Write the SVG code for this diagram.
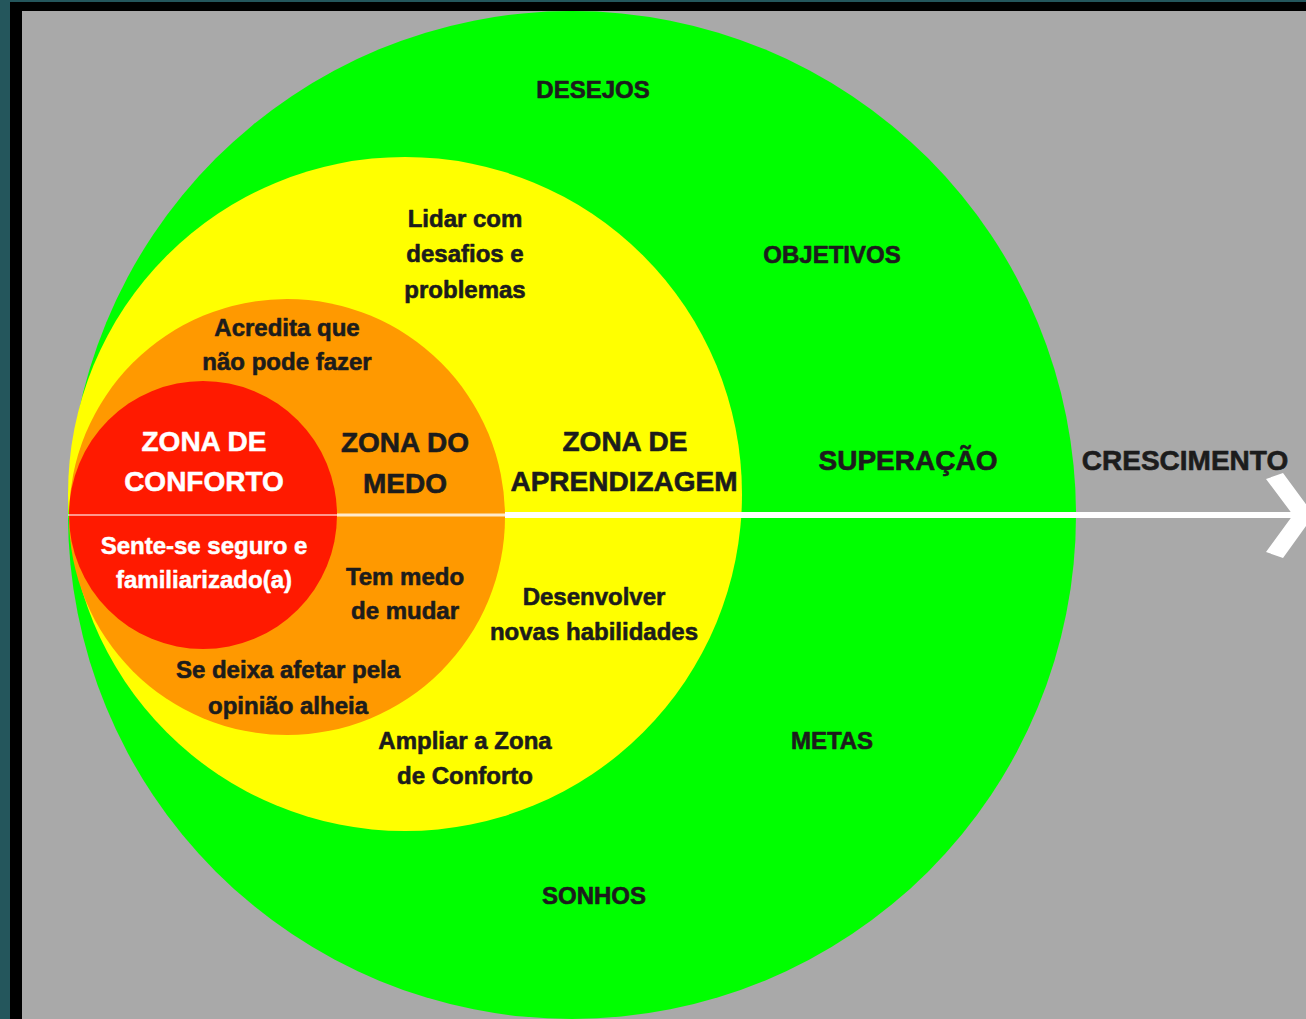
<svg xmlns="http://www.w3.org/2000/svg" width="1306" height="1019" viewBox="0 0 1306 1019">
  <style>
    text { font-family: "Liberation Sans", Arial, sans-serif; font-weight: bold; text-anchor: middle; stroke-linejoin: round; }
    .dark { fill: #1c1c1c; stroke: #1c1c1c; stroke-width: 0.6px; }
    .light { fill: #ffffff; stroke: #ffffff; stroke-width: 0.5px; }
    .big { font-size: 28px; }
    .small { font-size: 24px; }
  </style>
  <defs>
    <clipPath id="panel">
      <rect x="22" y="11" width="1284" height="1008"/>
    </clipPath>
  </defs>

  <!-- frame -->
  <rect x="0" y="0" width="1306" height="1019" fill="#24565c"/>
  <rect x="10" y="2" width="1296" height="1017" fill="#000000"/>
  <rect x="22" y="11" width="1284" height="1008" fill="#a9a9a9"/>

  <g clip-path="url(#panel)">
    <!-- zones, outer to inner -->
    <g id="zona-crescimento">
      <circle cx="572" cy="515" r="504" fill="#00ff00"/>
    </g>
    <g id="zona-aprendizagem">
      <circle cx="405" cy="494" r="337" fill="#ffff00"/>
    </g>
    <g id="zona-medo">
      <circle cx="287" cy="517" r="218" fill="#ff9900"/>
    </g>
    <g id="zona-conforto">
      <circle cx="203" cy="515" r="134" fill="#ff1a00"/>
    </g>

    <!-- growth arrow -->
    <g id="connectors">
      <line x1="68" y1="515" x2="337" y2="515" stroke="#ffffff" stroke-opacity="0.55" stroke-width="2"/>
      <line x1="337" y1="515" x2="505" y2="515" stroke="#ffffff" stroke-opacity="0.8" stroke-width="3"/>
      <line x1="505" y1="515" x2="1294" y2="515" stroke="#ffffff" stroke-width="6"/>
      <polygon points="1266,479 1283,473 1314,515 1283,558 1266,552 1293,515" fill="#ffffff"/>
    </g>
  </g>

  <!-- labels: comfort zone -->
  <g id="label-conforto">
    <text class="light big" x="204" y="451">ZONA DE</text>
    <text class="light big" x="204" y="491">CONFORTO</text>
    <text class="light small" x="204" y="554">Sente-se seguro e</text>
    <text class="light small" x="204" y="588">familiarizado(a)</text>
  </g>

  <!-- labels: fear zone -->
  <g id="label-medo">
    <text class="dark big" x="405" y="452">ZONA DO</text>
    <text class="dark big" x="405" y="493">MEDO</text>
    <text class="dark small" x="287" y="336">Acredita que</text>
    <text class="dark small" x="287" y="370">não pode fazer</text>
    <text class="dark small" x="405" y="585">Tem medo</text>
    <text class="dark small" x="405" y="619">de mudar</text>
    <text class="dark small" x="288" y="678">Se deixa afetar pela</text>
    <text class="dark small" x="288" y="714">opinião alheia</text>
  </g>

  <!-- labels: learning zone -->
  <g id="label-aprendizagem">
    <text class="dark big" x="625" y="451">ZONA DE</text>
    <text class="dark big" x="624" y="491">APRENDIZAGEM</text>
    <text class="dark small" x="465" y="227">Lidar com</text>
    <text class="dark small" x="465" y="262">desafios e</text>
    <text class="dark small" x="465" y="298">problemas</text>
    <text class="dark small" x="594" y="605">Desenvolver</text>
    <text class="dark small" x="594" y="640">novas habilidades</text>
    <text class="dark small" x="465" y="749">Ampliar a Zona</text>
    <text class="dark small" x="465" y="784">de Conforto</text>
  </g>

  <!-- labels: growth zone -->
  <g id="label-crescimento">
    <text class="dark small" x="593" y="98">DESEJOS</text>
    <text class="dark small" x="832" y="263">OBJETIVOS</text>
    <text class="dark big" x="908" y="470">SUPERAÇÃO</text>
    <text class="dark small" x="832" y="749">METAS</text>
    <text class="dark small" x="594" y="904">SONHOS</text>
  </g>
  <g id="label-seta">
    <text class="dark big" x="1185" y="470">CRESCIMENTO</text>
  </g>
</svg>
